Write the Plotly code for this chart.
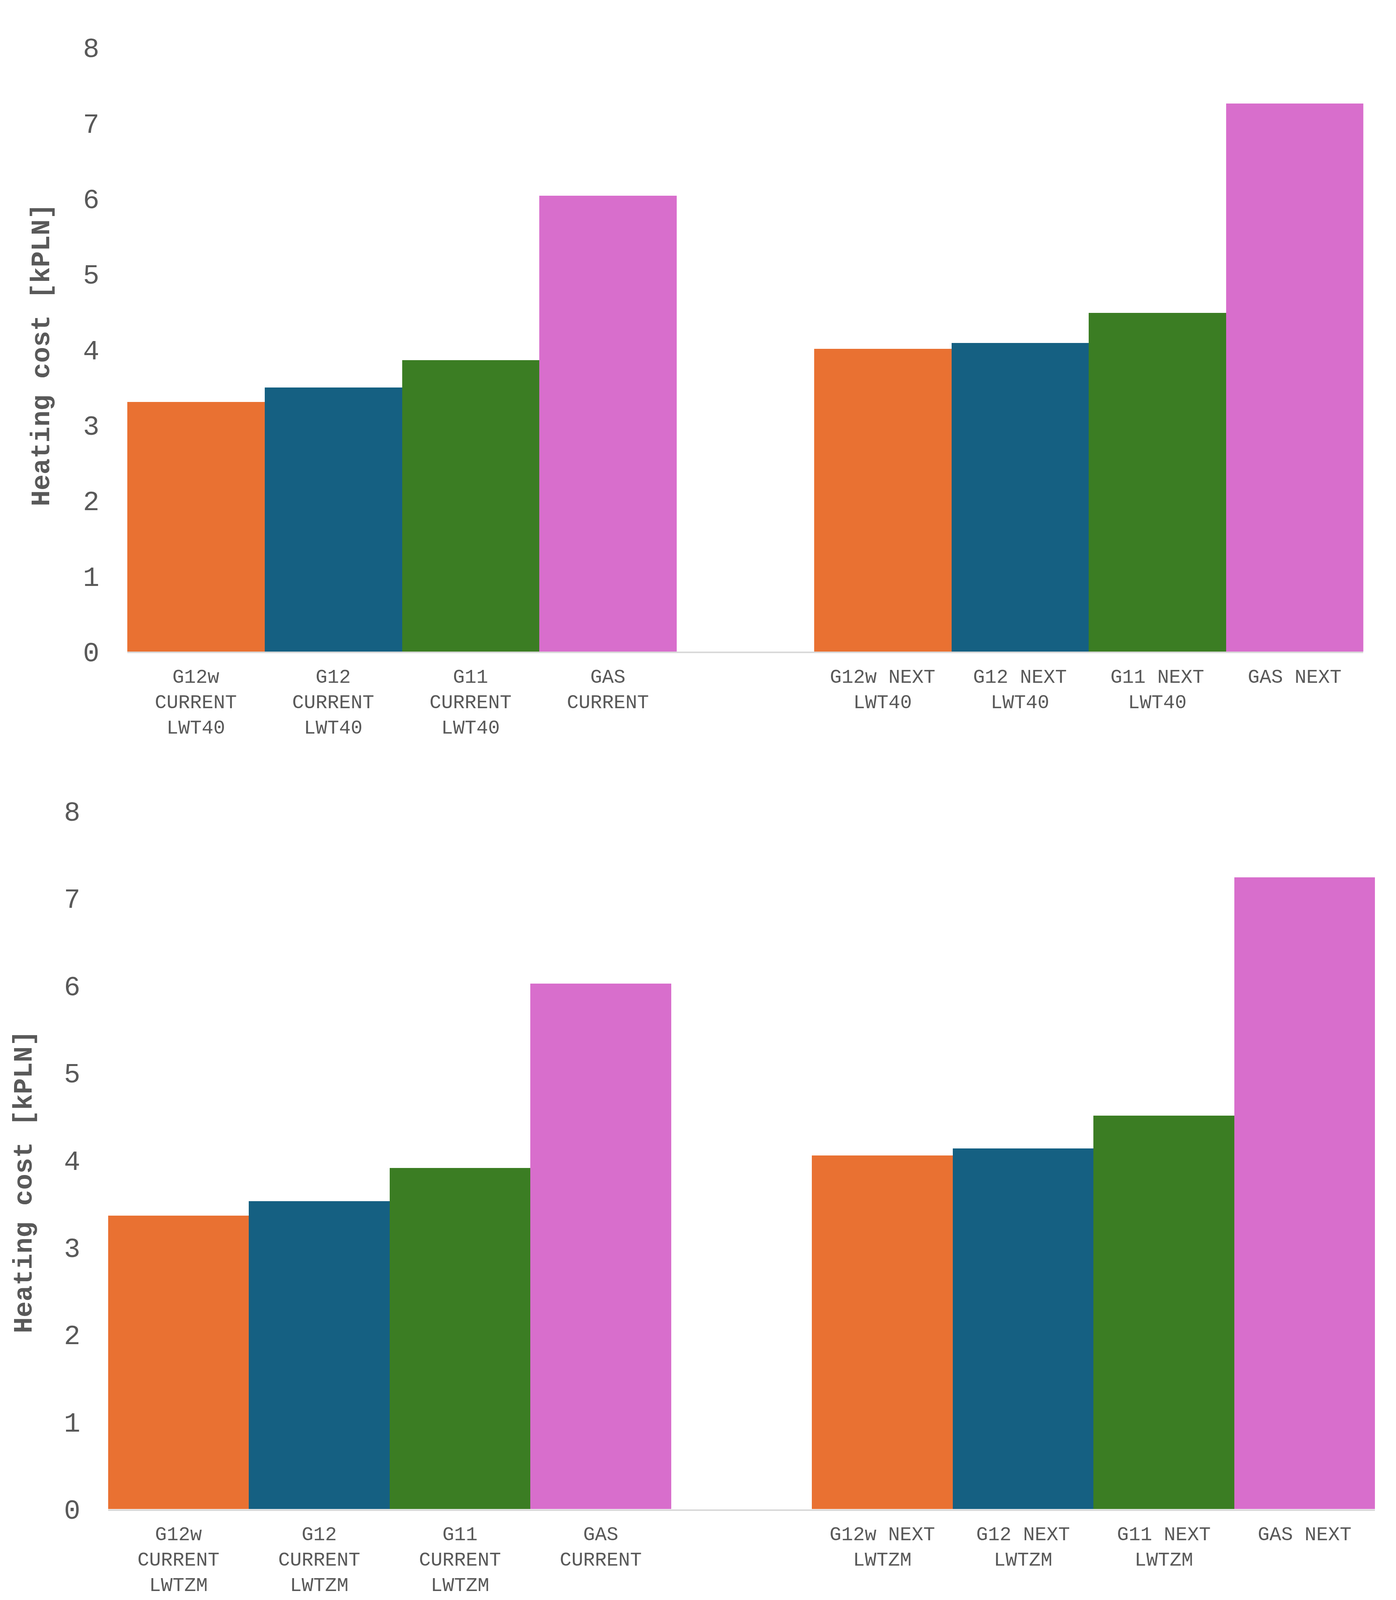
import plotly.graph_objects as go

# ---- data ----
categories_top = ["G12w CURRENT LWT40", "G12 CURRENT LWT40", "G11 CURRENT LWT40", "GAS CURRENT", "",
                  "G12w NEXT LWT40", "G12 NEXT LWT40", "G11 NEXT LWT40", "GAS NEXT"]
ticktext_top = ["G12w<br>CURRENT<br>LWT40", "G12<br>CURRENT<br>LWT40", "G11<br>CURRENT<br>LWT40",
                "GAS<br>CURRENT", "", "G12w NEXT<br>LWT40", "G12 NEXT<br>LWT40", "G11 NEXT<br>LWT40", "GAS NEXT"]
values_top = [3.31, 3.50, 3.86, 6.04, None, 4.01, 4.09, 4.49, 7.26]

categories_bottom = ["G12w CURRENT LWTZM", "G12 CURRENT LWTZM", "G11 CURRENT LWTZM", "GAS CURRENT", "",
                     "G12w NEXT LWTZM", "G12 NEXT LWTZM", "G11 NEXT LWTZM", "GAS NEXT"]
ticktext_bottom = ["G12w<br>CURRENT<br>LWTZM", "G12<br>CURRENT<br>LWTZM", "G11<br>CURRENT<br>LWTZM",
                   "GAS<br>CURRENT", "", "G12w NEXT<br>LWTZM", "G12 NEXT<br>LWTZM", "G11 NEXT<br>LWTZM", "GAS NEXT"]
values_bottom = [3.36, 3.53, 3.91, 6.02, None, 4.05, 4.13, 4.51, 7.24]

bar_colors = ["#E97132", "#156082", "#3B7D23", "#D86ECC", "#FFFFFF",
              "#E97132", "#156082", "#3B7D23", "#D86ECC"]

y_title = "Heating cost [kPLN]"
y_ticks = [0, 1, 2, 3, 4, 5, 6, 7, 8]

W = 3575  # reference width, used only to express domains as fractions
FONT = "Courier New, Liberation Mono, monospace"
GREY = "#595959"

fig = go.Figure()

fig.add_trace(go.Bar(x=list(range(len(categories_top))), y=values_top,
                     marker=dict(color=bar_colors, line=dict(width=0)),
                     hovertext=categories_top, xaxis="x", yaxis="y", showlegend=False))
fig.add_trace(go.Bar(x=list(range(len(categories_bottom))), y=values_bottom,
                     marker=dict(color=bar_colors, line=dict(width=0)),
                     hovertext=categories_bottom, xaxis="x2", yaxis="y2", showlegend=False))

def xax(domain, anchor, ticktext):
    return dict(domain=domain, anchor=anchor, range=[-0.5, len(ticktext) - 0.5],
                tickmode="array", tickvals=list(range(len(ticktext))), ticktext=ticktext,
                showline=True, linecolor="#D9D9D9", linewidth=3.5, ticks="",
                showgrid=False, zeroline=False, tickangle=0,
                tickfont=dict(family=FONT, size=50, color=GREY), ticklabelstandoff=16)

def yax(domain, anchor):
    return dict(domain=domain, anchor=anchor, range=[0, 8], tickmode="array", tickvals=y_ticks,
                showline=False, showgrid=False, zeroline=False, ticks="",
                tickfont=dict(family=FONT, size=70, color=GREY), ticklabelstandoff=70)

fig.update_layout(
    autosize=True, margin=dict(l=0, r=0, t=0, b=0),
    paper_bgcolor="white", plot_bgcolor="white", bargap=0,
    xaxis=xax([319 / W, 3499 / W], "y", ticktext_top),
    yaxis=yax([0.5931, 0.9800], "x"),
    xaxis2=xax([270 / W, 3529 / W], "y2", ticktext_bottom),
    yaxis2=yax([0.0439, 0.4910], "x2"),
    annotations=[
        dict(text=y_title, textangle=-90, xref="paper", yref="paper",
             x=100 / W, y=0.7832, showarrow=False, xanchor="center", yanchor="middle",
             font=dict(family=FONT, size=68, color=GREY, weight="bold")),
        dict(text=y_title, textangle=-90, xref="paper", yref="paper",
             x=55 / W, y=0.2536, showarrow=False, xanchor="center", yanchor="middle",
             font=dict(family=FONT, size=68, color=GREY, weight="bold")),
    ],
)

fig.write_html("out.html")
